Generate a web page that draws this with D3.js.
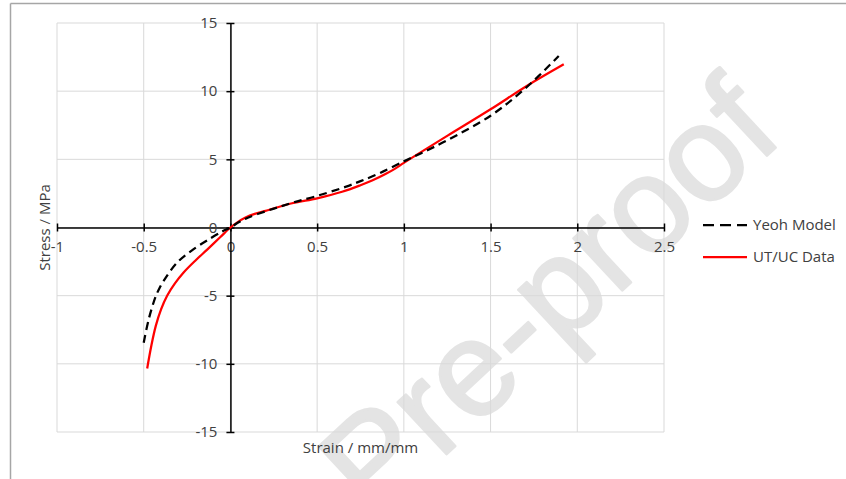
<!DOCTYPE html>
<html>
<head>
<meta charset="utf-8">
<script src="https://cdn.jsdelivr.net/npm/d3@7"></script>
<style>
  body { margin: 0; background: #fff; }
  svg text { font-family: "Open Sans", "Liberation Sans", sans-serif; fill: #404040; }
</style>
</head>
<body>
<div class="plot"></div>
<script>
var W = 846, H = 479;
var m = {t: 23, l: 57, r: 182, b: 47};

// strain (mm/mm) and stress (MPa)
var yeohStrain  = [-0.50, -0.471, -0.433, -0.41, -0.385, -0.307, -0.212, -0.115, -0.048, 0, 0.05, 0.10, 0.20, 0.279, 0.375, 0.50, 0.663, 0.75, 0.855, 1.0, 1.10, 1.25, 1.50, 1.70, 1.893];
var yeohStress  = [-8.45, -6.72, -5.13, -4.47, -3.91, -2.57, -1.59, -0.80, -0.30, 0, 0.40, 0.72, 1.18, 1.50, 1.88, 2.32, 2.98, 3.40, 3.95, 4.85, 5.45, 6.40, 8.20, 10.2, 12.58];

var dataStrain  = [-0.48, -0.455, -0.43, -0.40, -0.365, -0.32, -0.27, -0.20, -0.134, -0.058, 0, 0.04, 0.087, 0.14, 0.202, 0.356, 0.50, 0.644, 0.75, 0.82, 0.894, 0.95, 1.0, 1.25, 1.50, 1.711, 1.922];
var dataStress  = [-10.34, -8.6, -7.2, -6.0, -5.0, -4.1, -3.3, -2.4, -1.62, -0.70, 0, 0.38, 0.73, 1.0, 1.22, 1.78, 2.14, 2.62, 3.10, 3.46, 3.92, 4.32, 4.74, 6.72, 8.67, 10.4, 11.97];

var xTicks = [-1, -0.5, 0, 0.5, 1, 1.5, 2, 2.5];
var yTicks = [-15, -10, -5, 0, 5, 10, 15];
var seriesNames = ['Yeoh Model', 'UT/UC Data'];

var svg = d3.select('.plot').append('svg')
    .attr('width', W)
    .attr('height', H);

// watermark, behind everything
svg.append('text')
    .attr('transform', 'translate(374,522) rotate(-43)')
    .attr('font-size', 135)
    .style('font-family', '"Liberation Sans", Arial, sans-serif')
    .style('fill', '#e4e4e4')
    .style('stroke', '#e4e4e4').style('stroke-width', 2.5).style('stroke-linejoin', 'round')
    .text('Pre-proof');

// outer frame (only top and left edges show)
svg.append('line').attr('x1', 10.5).attr('x2', W).attr('y1', 3.5).attr('y2', 3.5)
    .attr('stroke', '#a6a6a6').attr('stroke-width', 1.5);
svg.append('line').attr('x1', 10.5).attr('x2', 10.5).attr('y1', 3.5).attr('y2', H)
    .attr('stroke', '#a6a6a6').attr('stroke-width', 1.5);

var w = W - m.l - m.r, h = H - m.t - m.b;

var x = d3.scaleLinear().domain([-1, 2.5]).range([m.l, m.l + w]);
var y = d3.scaleLinear().domain([-15, 15]).range([m.t + h, m.t]);

// gridlines
svg.append('g').selectAll('line').data(xTicks).enter().append('line')
    .attr('x1', function(d){return x(d)}).attr('x2', function(d){return x(d)})
    .attr('y1', y(-15)).attr('y2', y(15))
    .attr('stroke', '#d9d9d9').attr('stroke-width', 1);
svg.append('g').selectAll('line').data(yTicks).enter().append('line')
    .attr('x1', x(-1)).attr('x2', x(2.5))
    .attr('y1', function(d){return y(d)}).attr('y2', function(d){return y(d)})
    .attr('stroke', '#d9d9d9').attr('stroke-width', 1);

// axes crossing at the origin
var xAxis = d3.axisBottom(x).tickValues(xTicks).tickSizeInner(4).tickSizeOuter(0)
    .tickFormat(function(d){return d});
var yAxis = d3.axisLeft(y).tickValues(yTicks).tickSizeInner(4).tickSizeOuter(0)
    .tickFormat(function(d){return d});

var gx = svg.append('g').attr('transform', 'translate(0,' + y(0) + ')').call(xAxis);
var gy = svg.append('g').attr('transform', 'translate(' + x(0) + ',0)').call(yAxis);

[gx, gy].forEach(function(g){
    g.select('.domain').attr('stroke', '#000').attr('stroke-width', 1.5);
    g.selectAll('.tick line').attr('stroke', '#000').attr('stroke-width', 1.5);
    g.selectAll('text').attr('font-size', 15).attr('fill', '#404040')
        .style('font-family', '"Open Sans", sans-serif');
});
gx.selectAll('.tick line').attr('y1', -4).attr('y2', 4);
gx.selectAll('.tick text').attr('y', 14);
gy.selectAll('.tick line').attr('x1', -4).attr('x2', 4);
gy.selectAll('.tick text').attr('x', -13);

// axis titles
svg.append('text')
    .attr('x', x(0.75)).attr('y', 453)
    .attr('text-anchor', 'middle').attr('font-size', 15)
    .text('Strain / mm/mm');
svg.append('text')
    .attr('transform', 'translate(50,' + y(0) + ') rotate(-90)')
    .attr('text-anchor', 'middle').attr('font-size', 15)
    .text('Stress / MPa');

// curves
var line = d3.line()
    .x(function(d){return x(d[0])})
    .y(function(d){return y(d[1])})
    .curve(d3.curveCatmullRom.alpha(0.5));

var yeoh = d3.zip(yeohStrain, yeohStress);
var data = d3.zip(dataStrain, dataStress);

svg.append('path').datum(data)
    .attr('d', line)
    .attr('fill', 'none').attr('stroke', '#ff0000').attr('stroke-width', 2.25);
svg.append('path').datum(yeoh)
    .attr('d', line)
    .attr('fill', 'none').attr('stroke', '#000').attr('stroke-width', 2.25)
    .attr('stroke-dasharray', '8,5');

// legend
var legend = svg.append('g').attr('transform', 'translate(703,0)');
var legY = [225, 257];
legend.selectAll('line').data(seriesNames).enter().append('line')
    .attr('x1', 0).attr('x2', 44)
    .attr('y1', function(d,i){return legY[i]}).attr('y2', function(d,i){return legY[i]})
    .attr('stroke', function(d,i){return i == 0 ? '#000' : '#ff0000'})
    .attr('stroke-width', 2.25)
    .attr('stroke-dasharray', function(d,i){return i == 0 ? '11,6' : null});
legend.selectAll('text').data(seriesNames).enter().append('text')
    .attr('x', 50).attr('y', function(d,i){return legY[i] + 5})
    .attr('font-size', 15)
    .text(function(d){return d});
</script>
</body>
</html>
